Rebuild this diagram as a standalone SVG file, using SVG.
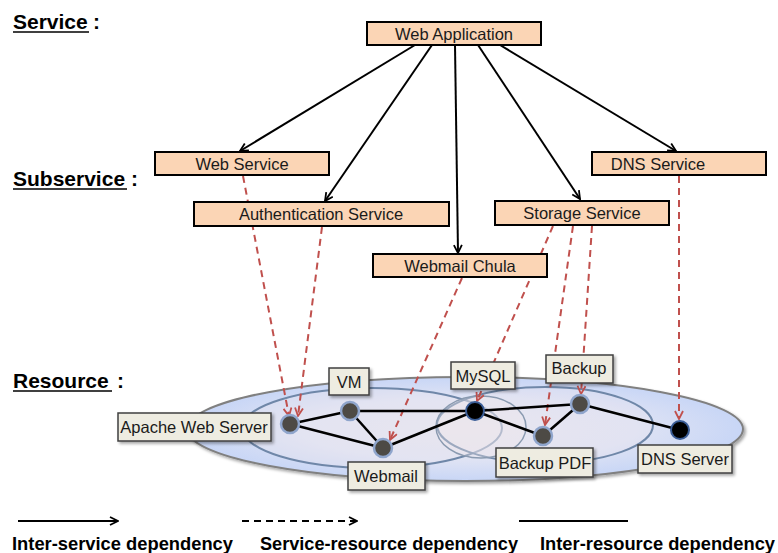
<svg xmlns="http://www.w3.org/2000/svg" width="778" height="553" viewBox="0 0 778 553">
<defs>
<style>
.hd{font-family:"Liberation Sans",Arial,sans-serif;font-weight:bold;font-size:21px;fill:#000}
.sv rect{fill:#fbd5b5;stroke:#000;stroke-width:2}
.sv text,.rl text{font-family:"Liberation Sans",Arial,sans-serif;font-size:16.5px;fill:#1a1a1a;text-anchor:middle}
.rl rect{fill:#eeece1;stroke:#404040;stroke-width:1.5;filter:url(#sh)}
.is{stroke:#000;stroke-width:2;fill:none;marker-end:url(#ab)}
.sr{stroke:#c0504d;stroke-width:2;fill:none;stroke-dasharray:7 5;marker-end:url(#ar)}
.ir{stroke:#000;stroke-width:2.5;fill:none}
.ng{fill:#4d4a45;stroke:#8fa5cc;stroke-width:2.5}
.nb{fill:#000;stroke:#3b5d96;stroke-width:2}
.lg{font-family:"Liberation Sans",Arial,sans-serif;font-weight:bold;font-size:18.5px;fill:#000}
</style>
<marker id="ab" viewBox="0 0 10 10" refX="9" refY="5" markerWidth="10" markerHeight="10" markerUnits="userSpaceOnUse" orient="auto"><path d="M1,1 L9,5 L1,9" fill="none" stroke="#000" stroke-width="1.8"/></marker>
<marker id="ar" viewBox="0 0 10 10" refX="9" refY="5" markerWidth="10" markerHeight="10" markerUnits="userSpaceOnUse" orient="auto"><path d="M1,1 L9,5 L1,9" fill="none" stroke="#c0504d" stroke-width="1.8"/></marker>
<radialGradient id="og" cx="0.5" cy="0.5" r="0.5"><stop offset="0" stop-color="#e6e6f0"/><stop offset="0.6" stop-color="#dfe3f4"/><stop offset="1" stop-color="#c8d6f6"/></radialGradient>
<filter id="sh" x="-20%" y="-20%" width="150%" height="160%"><feDropShadow dx="2" dy="2" stdDeviation="1.5" flood-color="#000" flood-opacity="0.35"/></filter>
</defs>
<rect width="778" height="553" fill="#fff"/>

<g id="headings">
<text class="hd" x="13" y="29">Service</text><text class="hd" x="93" y="29">:</text>
<line x1="13" y1="32" x2="89" y2="32" stroke="#000" stroke-width="1.5"/>
<text class="hd" x="13" y="186">Subservice</text><text class="hd" x="131" y="186">:</text>
<line x1="13" y1="189" x2="127" y2="189" stroke="#000" stroke-width="1.5"/>
<text class="hd" x="13" y="388">Resource</text><text class="hd" x="117" y="388">:</text>
<line x1="13" y1="391" x2="112" y2="391" stroke="#000" stroke-width="1.5"/>
</g>

<g id="resource-area">
<ellipse cx="465" cy="429" rx="278" ry="52" fill="url(#og)" stroke="#808080" stroke-width="2" filter="url(#sh)"/>
<ellipse cx="372" cy="428" rx="130" ry="40" fill="#ebe6ee" fill-opacity="0.35" stroke="#6f87a8" stroke-width="2"/>
<ellipse cx="545" cy="425" rx="108" ry="38" fill="#ebe6ee" fill-opacity="0.3" stroke="#6f87a8" stroke-width="2"/>
<ellipse cx="481" cy="427" rx="45" ry="31" fill="#f0e8ea" fill-opacity="0.35" stroke="#8a9ab0" stroke-width="1.5"/>
</g>

<g id="connectors">
<line class="is" x1="415" y1="45" x2="240" y2="151"/>
<line class="is" x1="432" y1="45" x2="325" y2="201"/>
<line class="is" x1="455" y1="45" x2="458" y2="253"/>
<line class="is" x1="478" y1="45" x2="580" y2="199"/>
<line class="is" x1="500" y1="45" x2="676" y2="151"/>
<line class="sr" x1="243" y1="176" x2="289" y2="416"/>
<line class="sr" x1="322" y1="227" x2="298" y2="416"/>
<line class="sr" x1="462" y1="278" x2="390" y2="440"/>
<line class="sr" x1="553" y1="226" x2="477" y2="401"/>
<line class="sr" x1="573" y1="226" x2="545" y2="425"/>
<line class="sr" x1="592" y1="226" x2="581" y2="394"/>
<line class="sr" x1="679" y1="176" x2="679" y2="419"/>
<line class="ir" x1="290" y1="424" x2="350" y2="411"/>
<line class="ir" x1="290" y1="424" x2="383" y2="448"/>
<line class="ir" x1="350" y1="411" x2="383" y2="448"/>
<line class="ir" x1="350" y1="411" x2="475" y2="411"/>
<line class="ir" x1="383" y1="448" x2="475" y2="411"/>
<line class="ir" x1="475" y1="411" x2="580" y2="404"/>
<line class="ir" x1="475" y1="411" x2="543" y2="436"/>
<line class="ir" x1="543" y1="436" x2="580" y2="404"/>
<line class="ir" x1="580" y1="404" x2="680" y2="430"/>
</g>

<g id="web-application" class="sv"><rect x="367" y="22" width="174" height="23"/><text x="454" y="40">Web Application</text></g>
<g id="web-service" class="sv"><rect x="155" y="152" width="174" height="23"/><text x="242" y="170">Web Service</text></g>
<g id="authentication-service" class="sv"><rect x="194" y="202" width="255" height="24"/><text x="321" y="220">Authentication  Service</text></g>
<g id="webmail-chula" class="sv"><rect x="373" y="254" width="174" height="23"/><text x="460" y="272">Webmail Chula</text></g>
<g id="storage-service" class="sv"><rect x="495" y="201" width="174" height="24"/><text x="582" y="219">Storage Service</text></g>
<g id="dns-service" class="sv"><rect x="592" y="152" width="174" height="23"/><text x="658" y="170">DNS Service</text></g>

<g id="apache-web-server"><circle class="ng" cx="290" cy="424" r="9"/><g class="rl"><rect x="118" y="413" width="153" height="28"/><text x="194" y="433">Apache Web Server</text></g></g>
<g id="vm"><circle class="ng" cx="350" cy="411" r="9"/><g class="rl"><rect x="329" y="368" width="40" height="27"/><text x="349" y="388">VM</text></g></g>
<g id="webmail"><circle class="ng" cx="383" cy="448" r="9"/><g class="rl"><rect x="348" y="462" width="77" height="28"/><text x="386" y="482">Webmail</text></g></g>
<g id="mysql"><circle class="nb" cx="475" cy="411" r="9"/><g class="rl"><rect x="451" y="362" width="64" height="27"/><text x="483" y="382">MySQL</text></g></g>
<g id="backup"><circle class="ng" cx="580" cy="404" r="9"/><g class="rl"><rect x="546" y="355" width="67" height="28"/><text x="579" y="374">Backup</text></g></g>
<g id="backup-pdf"><circle class="ng" cx="543" cy="436" r="9"/><g class="rl"><rect x="496" y="448" width="97" height="29"/><text x="545" y="469">Backup PDF</text></g></g>
<g id="dns-server"><circle class="nb" cx="680" cy="430" r="9"/><g class="rl"><rect x="638" y="445" width="94" height="28"/><text x="685" y="465">DNS Server</text></g></g>

<g id="legend">
<line class="is" x1="18" y1="521" x2="118" y2="521" stroke-width="2"/>
<line x1="242" y1="521" x2="357" y2="521" stroke="#000" stroke-width="2" stroke-dasharray="7 5" marker-end="url(#ab)"/>
<line x1="519" y1="521" x2="628" y2="521" stroke="#000" stroke-width="2"/>
<text class="lg" x="12" y="550" textLength="221" lengthAdjust="spacingAndGlyphs">Inter-service dependency</text>
<text class="lg" x="260" y="550" textLength="258" lengthAdjust="spacingAndGlyphs">Service-resource dependency</text>
<text class="lg" x="540" y="550" textLength="235" lengthAdjust="spacingAndGlyphs">Inter-resource dependency</text>
</g>
</svg>
